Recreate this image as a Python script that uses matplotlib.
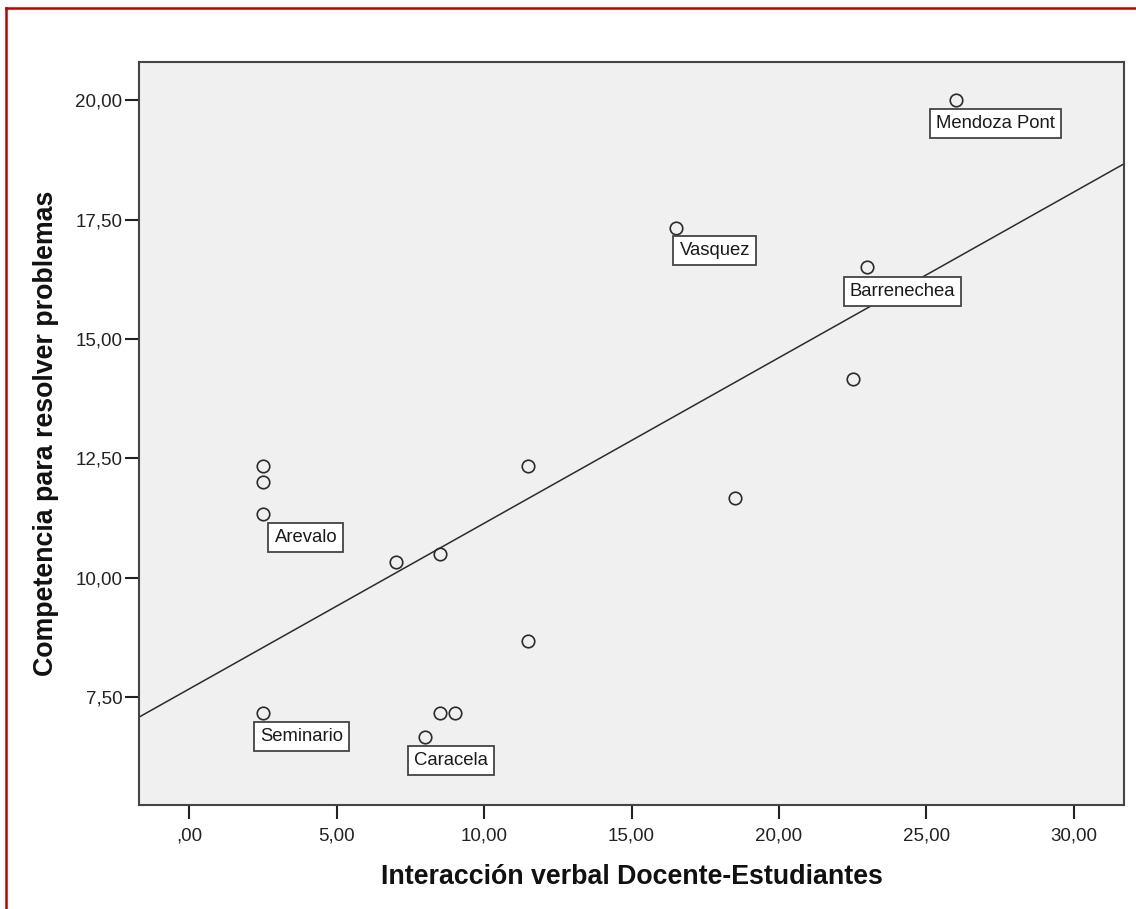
import numpy as np
import matplotlib
matplotlib.use("Agg")
import matplotlib.pyplot as plt
from matplotlib.lines import Line2D
from matplotlib.ticker import FuncFormatter

plt.rcParams['font.family'] = ['Liberation Sans', 'DejaVu Sans']

# Interaccion verbal (x) vs competencia (y)
interaccion = [2.5, 2.5, 2.5, 2.5, 7.0, 8.5, 11.5, 11.5, 8.5, 9.0, 8.0,
               16.5, 18.5, 22.5, 23.0, 26.0]
competencia = [12.33, 12.0, 11.33, 7.17, 10.33, 10.5, 12.33, 8.67, 7.17, 7.17, 6.67,
               17.33, 11.67, 14.17, 16.5, 20.0]

# labelled cases: (name, index into the arrays)
etiquetas = ["Arevalo", "Seminario", "Caracela", "Vasquez", "Barrenechea", "Mendoza Pont"]
idx_etiquetas = [2, 3, 10, 11, 14, 15]
# offsets of the label box centre from the point, in pixels
off_etiquetas = [(43, -23), (39, -24), (26, -24), (39, -23), (35, -24), (40, -23)]

x_ticks = [0, 5, 10, 15, 20, 25, 30]
y_ticks = [7.5, 10.0, 12.5, 15.0, 17.5, 20.0]

fig = plt.figure(figsize=(11.36, 9.09), dpi=100)
ax = fig.add_axes([0.1224, 0.1144, 0.867, 0.8174])
ax.set_facecolor('#f0f0f0')

ax.set_xlim(-1.7, 31.7)
ax.set_ylim(5.24, 20.8)

# fit line
b, a = np.polyfit(interaccion, competencia, 1)
xs = np.array(ax.get_xlim())
ax.plot(xs, a + b * xs, color='#2b2b2b', lw=1.1, zorder=2)

ax.plot(interaccion, competencia, 'o', ms=9, mfc='none', mec='#2b2b2b', mew=1.2, zorder=3)

for name, i, (dx, dy) in zip(etiquetas, idx_etiquetas, off_etiquetas):
    ax.annotate(name, (interaccion[i], competencia[i]), xytext=(dx, dy),
                textcoords='offset pixels', ha='center', va='center', fontsize=13.3,
                color='#1a1a1a', zorder=4,
                bbox=dict(boxstyle='square,pad=0.33', fc='white', ec='#444444', lw=1.3))

def fmt(v, pos):
    s = f"{v:.2f}".replace('.', ',')
    if s.startswith('0,'):
        s = s[1:]
    return s

ax.set_xticks(x_ticks)
ax.set_yticks(y_ticks)
ax.xaxis.set_major_formatter(FuncFormatter(fmt))
ax.yaxis.set_major_formatter(FuncFormatter(fmt))
ax.tick_params(length=10, width=1.5, color='#222222', labelsize=13.5, labelcolor='#222222')
ax.tick_params(axis='x', pad=6)
ax.tick_params(axis='y', pad=2)

for s in ax.spines.values():
    s.set_color('#444444')
    s.set_linewidth(1.5)

ax.set_xlabel('Interacción verbal Docente-Estudiantes', fontsize=19.3, fontweight='bold',
              color='#111111', labelpad=14)
ax.set_ylabel('Competencia para resolver problemas', fontsize=19.3, fontweight='bold',
              color='#111111', labelpad=12)

# red frame (top and left)
fig.add_artist(Line2D([6 / 1136, 1], [1 - 8 / 909, 1 - 8 / 909], color='#c00000', lw=1.8))
fig.add_artist(Line2D([6 / 1136, 6 / 1136], [0, 1 - 8 / 909], color='#c00000', lw=1.8))

fig.savefig('out.png', dpi=100)
